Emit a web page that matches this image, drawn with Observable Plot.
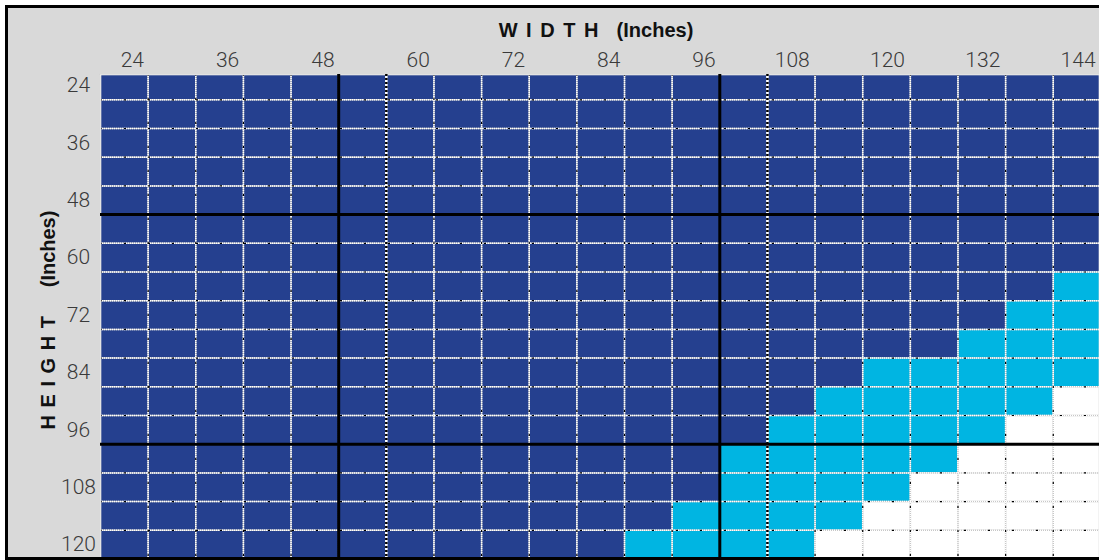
<!DOCTYPE html>
<html>
<head>
<meta charset="utf-8">
<script src="https://cdn.jsdelivr.net/npm/d3@7"></script>
<script src="https://cdn.jsdelivr.net/npm/@observablehq/plot@0.6"></script>
<style>
  html, body { margin: 0; padding: 0; background: #fff; overflow: hidden; }
  #wrap { position: relative; width: 1099px; height: 560px; overflow: hidden; background: #fff; }
  #bg { position: absolute; left: 8px; top: 8px; right: 0; bottom: 3px; background: #d9d9d9; }
  #chart { position: absolute; left: 0; top: 0; }
  #border { position: absolute; left: 5px; top: 5px; width: 1200px; height: 555px; box-sizing: border-box; border: 3px solid #000; pointer-events: none; }
  .title { position: absolute; font-family: "Liberation Sans", Arial, sans-serif; font-weight: bold; font-size: 20px; line-height: 20px; color: #111; white-space: pre; text-align: center; }
  #xtitle { left: 0; width: 1192px; top: 20px; }
  #ytitle { left: -152.5px; width: 400px; top: 310px; transform: rotate(-90deg); transform-origin: 50% 50%; }
</style>
</head>
<body>
<div id="wrap">
  <div id="bg"></div>
  <div id="chart"></div>
  <div id="xtitle" class="title"><span style="letter-spacing:1.5px">W I D T H</span>   (Inches)</div>
  <div id="ytitle" class="title"><span style="letter-spacing:1px">H E I G H T</span>     (Inches)</div>
  <div id="border"></div>
</div>
<script>
// ---- data ----
const widths  = [24, 30, 36, 42, 48, 54, 60, 66, 72, 78, 84, 90, 96, 102, 108, 114, 120, 126, 132, 138, 144];
const heights = [24, 30, 36, 42, 48, 54, 60, 66, 72, 78, 84, 90, 96, 102, 108, 114, 120];
const xTickLabels = [24, 36, 48, 60, 72, 84, 96, 108, 120, 132, 144];
const yTickLabels = [24, 36, 48, 60, 72, 84, 96, 108, 120];
// rows where the light-blue zone appears: first light width and first white width
const lightHeights = [66, 72, 78, 84, 90, 96, 102, 108, 114, 120];
const lightFrom    = [144, 138, 132, 120, 114, 108, 102, 102, 96, 90];
const whiteFrom    = [null, null, null, null, 144, 138, 132, 126, 120, 114];
// section dividers (between 48|54 and 96|102) and dashed markers (between 54|60 and 102|108)
const dividerX = [51, 99];
const dividerY = [51, 99];
const dashedX  = [57, 105];
const categories = ["dark", "light", "white"];
const catColors  = ["#25408f", "#00b5e2", "#ffffff"];

const step = 6;
const cells = [];
for (const h of heights) {
  const i = lightHeights.indexOf(h);
  for (const w of widths) {
    let cat = "dark";
    if (i >= 0) {
      if (whiteFrom[i] != null && w >= whiteFrom[i]) cat = "white";
      else if (w >= lightFrom[i]) cat = "light";
    }
    cells.push({w, h, cat});
  }
}
const gridX = widths.slice(1).map(w => w - step / 2);
const gridY = heights.slice(1).map(h => h - step / 2);

const tickFont = {fontFamily: "Roboto, 'Liberation Sans', sans-serif", fontSize: 21, fontWeight: 300, fill: "#3a3a3a"};

const chart = Plot.plot({
  width: 1099,
  height: 560,
  marginTop: 74,
  marginLeft: 100,
  marginRight: 0,
  marginBottom: 0,
  style: {background: "transparent", overflow: "visible"},
  x: {domain: [21, 147], range: [100, 1100.4], axis: null},
  y: {domain: [21, 123], range: [70.6, 558.5], axis: null},
  color: {domain: categories, range: catColors},
  marks: [
    Plot.rect(cells, {x1: d => d.w - step / 2, x2: d => d.w + step / 2, y1: d => d.h - step / 2, y2: d => d.h + step / 2, fill: "cat", clip: true}),
    // dotted grid lines
    Plot.ruleX(gridX, {stroke: "#c8c8c8", strokeWidth: 1.5}),
    Plot.ruleY(gridY, {stroke: "#c8c8c8", strokeWidth: 1.5}),
    Plot.ruleX(gridX, {stroke: "#fff", strokeWidth: 1.5, strokeDasharray: "1,1"}),
    Plot.ruleY(gridY, {stroke: "#fff", strokeWidth: 1.5, strokeDasharray: "1,1"}),
    Plot.ruleX(gridX, {stroke: "#000", strokeWidth: 1.2, strokeDasharray: "2,22"}),
    Plot.ruleY(gridY, {stroke: "#000", strokeWidth: 1.2, strokeDasharray: "2,22"}),
    Plot.frame({stroke: "#c8c8c8", strokeWidth: 1.5}),
    Plot.frame({stroke: "#fff", strokeWidth: 1.5, strokeDasharray: "1,1"}),
    // black/white dashed markers
    Plot.ruleX(dashedX, {stroke: "#fff", strokeWidth: 2.5}),
    Plot.ruleX(dashedX, {stroke: "#000", strokeWidth: 2.5, strokeDasharray: "2,2"}),
    // section dividers
    Plot.ruleX(dividerX, {stroke: "#000", strokeWidth: 3}),
    Plot.ruleY(dividerY, {stroke: "#000", strokeWidth: 3}),
    // tick labels
    Plot.text(xTickLabels.filter(d => d < 100), {x: d => d, text: d => String(d), frameAnchor: "top", dy: -14, dx: 8, lineAnchor: "middle", ...tickFont}),
    Plot.text(xTickLabels.filter(d => d >= 100), {x: d => d, text: d => String(d), frameAnchor: "top", dy: -14, dx: 1, lineAnchor: "middle", ...tickFont}),
    Plot.text(yTickLabels, {y: d => d, text: d => String(d), frameAnchor: "left", dx: -22, textAnchor: "middle", lineAnchor: "middle", ...tickFont})
  ]
});
document.getElementById("chart").appendChild(chart);
</script>
</body>
</html>
